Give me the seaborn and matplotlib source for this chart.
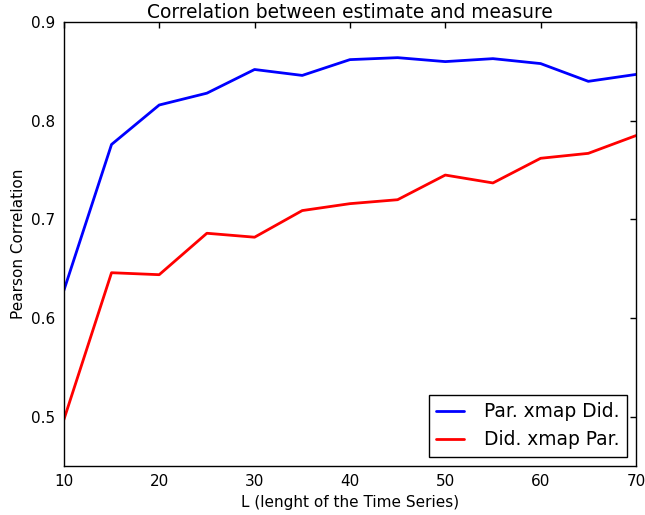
import matplotlib
matplotlib.use("Agg")
import matplotlib.pyplot as plt
import seaborn as sns
import pandas as pd

L = [10, 15, 20, 25, 30, 35, 40, 45, 50, 55, 60, 65, 70]
par_xmap_did = [0.628, 0.776, 0.816, 0.828, 0.852, 0.846, 0.862, 0.864, 0.860, 0.863, 0.858, 0.840, 0.847]
did_xmap_par = [0.497, 0.646, 0.644, 0.686, 0.682, 0.709, 0.716, 0.720, 0.745, 0.737, 0.762, 0.767, 0.785]
series_names = ["Par. xmap Did.", "Did. xmap Par."]

df = pd.DataFrame({
    "L": L * 2,
    "corr": par_xmap_did + did_xmap_par,
    "series": [series_names[0]] * len(L) + [series_names[1]] * len(L),
})

sns.set_style("white")
plt.rcParams["font.family"] = ["DejaVu Sans"]
plt.rcParams.update({
    "xtick.direction": "in", "ytick.direction": "in",
    "xtick.top": True, "ytick.right": True,
    "xtick.major.size": 4, "ytick.major.size": 4,
    "text.color": "black", "axes.labelcolor": "black",
})

fig = plt.figure(figsize=(6.45, 5.15), dpi=100)
ax = fig.add_axes([0.099, 0.095, 0.887, 0.862])
sns.lineplot(data=df, x="L", y="corr", hue="series",
             palette={series_names[0]: "#0000ff", series_names[1]: "#ff0000"},
             linewidth=2, ax=ax)
ax.set_xlim(10, 70)
ax.set_ylim(0.45, 0.9)
ax.set_xticks([10, 20, 30, 40, 50, 60, 70])
ax.set_yticks([0.5, 0.6, 0.7, 0.8, 0.9])
ax.tick_params(labelsize=11, colors="black", width=1, pad=6)
for s in ax.spines.values():
    s.set_color("black")
    s.set_linewidth(1)
ax.set_title("Correlation between estimate and measure", fontsize=13.4, pad=3)
ax.set_xlabel("L (lenght of the Time Series)", fontsize=11)
ax.set_ylabel("Pearson Correlation", fontsize=11)
leg = ax.legend(loc="lower right", fontsize=13.4, frameon=True, fancybox=False,
                edgecolor="black", framealpha=1, borderaxespad=0.5,
                handlelength=1.5, handletextpad=1.05, borderpad=0.4)
leg.get_frame().set_linewidth(1)
fig.savefig("out.png", dpi=100)
